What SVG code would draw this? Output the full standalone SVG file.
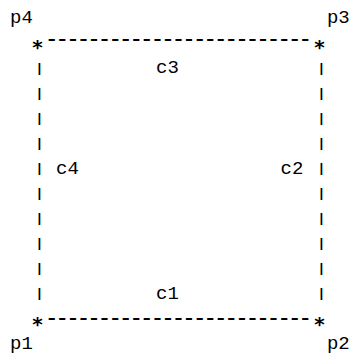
<svg xmlns="http://www.w3.org/2000/svg" width="351" height="355" viewBox="0 0 351 355">
<style>
text { font-family: "Liberation Mono", "DejaVu Sans Mono", monospace; font-size: 19px; fill: #000; }
.m { text-anchor: middle; }
.d { font-family: "DejaVu Sans Mono", monospace; font-size: 24px; }
.bar { font-size: 13px; font-weight: bold; }
.st { font-family: "DejaVu Sans Mono", monospace; font-size: 20px; font-weight: bold; }
</style>
<rect width="351" height="355" fill="#fff"/>
<g id="connectors">
  <g id="c3-edge">
    <text class="d" x="44.5" y="47.3" textLength="268" lengthAdjust="spacing">-------------------------</text>
    <text class="m" x="167.5" y="73.4">c3</text>
  </g>
  <g id="c1-edge">
    <text class="d" x="44.5" y="326.1" textLength="268" lengthAdjust="spacing">-------------------------</text>
    <text class="m" x="167.5" y="298.9">c1</text>
  </g>
  <g id="c4-edge">
    <text class="m bar"><tspan x="39.3" y="72">|</tspan><tspan x="39.3" y="97">|</tspan><tspan x="39.3" y="122">|</tspan><tspan x="39.3" y="147.1">|</tspan><tspan x="39.3" y="172.1">|</tspan><tspan x="39.3" y="197.2">|</tspan><tspan x="39.3" y="222.2">|</tspan><tspan x="39.3" y="247.3">|</tspan><tspan x="39.3" y="272.3">|</tspan><tspan x="39.3" y="297.4">|</tspan></text>
    <text class="m" x="67.5" y="173.6">c4</text>
  </g>
  <g id="c2-edge">
    <text class="m bar"><tspan x="321.3" y="72">|</tspan><tspan x="321.3" y="97">|</tspan><tspan x="321.3" y="122">|</tspan><tspan x="321.3" y="147.1">|</tspan><tspan x="321.3" y="172.1">|</tspan><tspan x="321.3" y="197.2">|</tspan><tspan x="321.3" y="222.2">|</tspan><tspan x="321.3" y="247.3">|</tspan><tspan x="321.3" y="272.3">|</tspan><tspan x="321.3" y="297.4">|</tspan></text>
    <text class="m" x="292" y="173.6">c2</text>
  </g>
</g>
<g id="p4">
  <text class="m st" x="37.6" y="53.5">*</text>
  <text class="m" x="21.5" y="23.4">p4</text>
</g>
<g id="p3">
  <text class="m st" x="319.5" y="53.5">*</text>
  <text class="m" x="338.3" y="23.4">p3</text>
</g>
<g id="p1">
  <text class="m st" x="37.6" y="331">*</text>
  <text class="m" x="21.5" y="349">p1</text>
</g>
<g id="p2">
  <text class="m st" x="319.5" y="331">*</text>
  <text class="m" x="338.3" y="349">p2</text>
</g>
</svg>
